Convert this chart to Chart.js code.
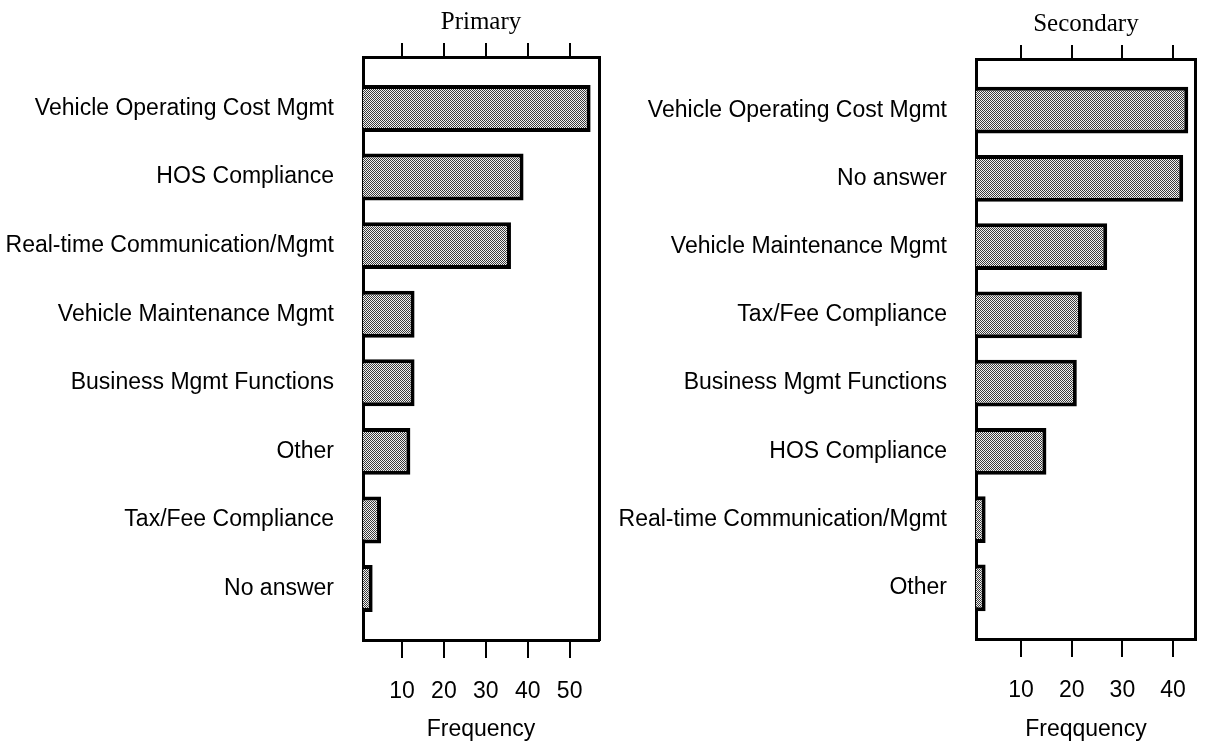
<!DOCTYPE html>
<html>
<head>
<meta charset="utf-8">
<script src="https://cdn.jsdelivr.net/npm/chart.js@4/dist/chart.umd.min.js"></script>
<style>
  html, body { margin: 0; padding: 0; background: #fff; }
  .panel { position: absolute; top: 0; }
</style>
</head>
<body>
<div class="panel" style="left:0"><canvas id="primary" width="610" height="743"></canvas></div>
<div class="panel" style="left:610px"><canvas id="secondary" width="597" height="743"></canvas></div>
<script>
// Primary uses
const primaryLabels = [
  'Vehicle Operating Cost Mgmt', 'HOS Compliance', 'Real-time Communication/Mgmt',
  'Vehicle Maintenance Mgmt', 'Business Mgmt Functions', 'Other',
  'Tax/Fee Compliance', 'No answer'
];
const primaryValues = [55, 39, 36, 13, 13, 12, 5, 3];
const primaryTicks = [10, 20, 30, 40, 50];

// Secondary uses
const secondaryLabels = [
  'Vehicle Operating Cost Mgmt', 'No answer', 'Vehicle Maintenance Mgmt',
  'Tax/Fee Compliance', 'Business Mgmt Functions', 'HOS Compliance',
  'Real-time Communication/Mgmt', 'Other'
];
const secondaryValues = [43, 42, 27, 22, 21, 15, 3, 3];
const secondaryTicks = [10, 20, 30, 40];

const SANS = "'Liberation Sans', Arial, sans-serif";
const SERIF = "'Liberation Serif', 'Times New Roman', serif";

// fine dotted fill like the scanned stipple
function stipple(ctx) {
  const c = document.createElement('canvas');
  c.width = 4; c.height = 4;
  const g = c.getContext('2d');
  g.fillStyle = '#f2f2f2';
  g.fillRect(0, 0, 4, 4);
  g.fillStyle = '#3a3a3a';
  for (let y = 0; y < 4; y++) {
    for (let x = 0; x < 4; x++) {
      if ((x + y) % 2 === 0) g.fillRect(x, y, 1, 1);
    }
  }
  return ctx.createPattern(c, 'repeat');
}

function makePanel(id, opts) {
  const canvas = document.getElementById(id);
  const ctx = canvas.getContext('2d');
  const setTicks = (scale) => { scale.ticks = opts.ticks.map(v => ({ value: v })); };

  new Chart(ctx, {
    type: 'bar',
    data: {
      datasets: [{
        data: opts.values.map((v, i) => ({ x: v, y: i + 1 })),
        backgroundColor: stipple(ctx),
        borderColor: '#000',
        borderWidth: 4,
        barPercentage: 0.685,
        categoryPercentage: 1,
        xAxisID: 'x',
        yAxisID: 'y'
      }]
    },
    options: {
      indexAxis: 'y',
      responsive: false,
      animation: false,
      layout: { padding: { left: 0, right: opts.padRight, top: 0, bottom: 0 } },
      plugins: {
        legend: { display: false },
        tooltip: { enabled: false },
        title: {
          display: true,
          text: opts.title,
          fullSize: false,
          color: '#000',
          font: { family: SERIF, size: 25, weight: 'normal' },
          padding: { top: opts.titleTop, bottom: 6 }
        }
      },
      scales: {
        x: {
          type: 'linear',
          position: 'bottom',
          min: opts.min,
          max: opts.max,
          afterBuildTicks: setTicks,
          afterFit: (s) => { s.height = opts.bottomHeight; },
          grid: { drawOnChartArea: false, drawTicks: true, tickLength: 18, color: '#000', lineWidth: 2 },
          border: { display: true, color: '#000', width: 3 },
          ticks: { color: '#000', padding: 20, font: { family: SANS, size: 23 } },
          title: {
            display: true,
            text: opts.axisTitle,
            color: '#000',
            font: { family: SANS, size: 23 },
            padding: { top: 4, bottom: 0 }
          }
        },
        x2: {
          type: 'linear',
          position: 'top',
          min: opts.min,
          max: opts.max,
          afterBuildTicks: setTicks,
          afterFit: (s) => { s.height = 14; },
          grid: { drawOnChartArea: false, drawTicks: true, tickLength: 14, color: '#000', lineWidth: 2 },
          border: { display: true, color: '#000', width: 3 },
          ticks: { display: false }
        },
        y: {
          type: 'linear',
          position: 'left',
          reverse: true,
          offset: false,
          min: 0.25,
          max: 8.75,
          afterBuildTicks: (s) => { s.ticks = opts.labels.map((l, i) => ({ value: i + 1 })); },
          afterFit: (s) => { s.width = opts.yWidth; },
          grid: { display: false, offset: false },
          border: { display: true, color: '#000', width: 3 },
          ticks: {
            color: '#000',
            padding: 21,
            font: { family: SANS, size: 23 },
            callback: (v) => opts.labels[v - 1] || ''
          }
        },
        y2: {
          type: 'linear',
          position: 'right',
          offset: false,
          min: 0.25,
          max: 8.75,
          afterFit: (s) => { s.width = 0; },
          grid: { display: false },
          border: { display: true, color: '#000', width: 3 },
          ticks: { display: false }
        }
      }
    }
  });
}

makePanel('primary', {
  title: 'Primary',
  axisTitle: 'Frequency',
  labels: primaryLabels,
  values: primaryValues,
  ticks: primaryTicks,
  min: 0.7,
  max: 57,
  yWidth: 363,
  padRight: 11,
  titleTop: 7,
  bottomHeight: 103
});

makePanel('secondary', {
  title: 'Secondary',
  axisTitle: 'Freqquency',
  labels: secondaryLabels,
  values: secondaryValues,
  ticks: secondaryTicks,
  min: 1.1,
  max: 44.5,
  yWidth: 366,
  padRight: 2,
  titleTop: 9,
  bottomHeight: 104
});
</script>
</body>
</html>
